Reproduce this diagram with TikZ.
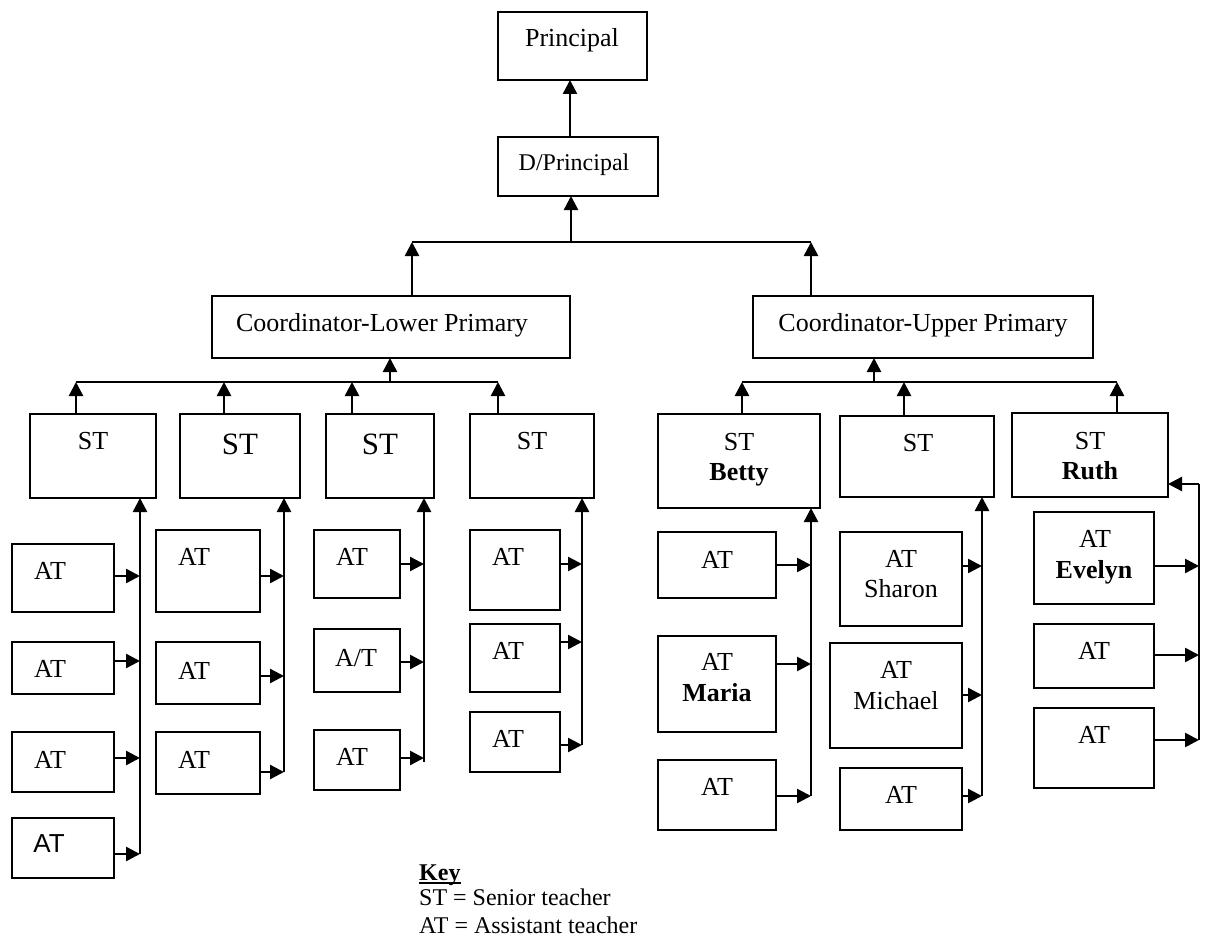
\documentclass[tikz,border=0pt]{standalone}
\usepackage{fontspec}
\setmainfont{Liberation Serif}
\newfontfamily\arialf{Liberation Sans}
\usetikzlibrary{arrows.meta,fit}
\newcommand\mybox[5]{\node[box, fit={(#2,#3) (#4,#5)}] (#1) {};}
\begin{document}
\begin{tikzpicture}[x=1pt,y=-1pt,
  box/.style={draw, line width=2pt, inner sep=0pt, outer sep=0pt},
  conn/.style={line width=2.5pt},
  arr/.style={line width=2.5pt, -{Triangle[length=14pt,width=14pt]}},
  lbl/.style={anchor=base, inner sep=0pt, font=\fontsize{26}{30}\selectfont},
  lblb/.style={anchor=base, inner sep=0pt, font=\fontsize{26}{30}\selectfont\bfseries},
  lblbig/.style={anchor=base, inner sep=0pt, font=\fontsize{31}{36}\selectfont},
  lblmid/.style={anchor=base, inner sep=0pt, font=\fontsize{24}{28}\selectfont},
  lblsans/.style={anchor=base, inner sep=0pt, font=\fontsize{26}{30}\selectfont\arialf},
  keytxt/.style={anchor=base west, inner sep=0pt, font=\fontsize{24}{27}\selectfont}
]
\useasboundingbox (0,0) rectangle (1210,939);

% ---------- boxes ----------
\mybox{prin}{498}{12}{647}{80}
\mybox{dp}{498}{137}{658}{196}
\mybox{cl}{212}{296}{570}{358}
\mybox{cu}{753}{296}{1093}{358}
\mybox{st1}{30}{414}{156}{498}
\mybox{st2}{180}{414}{300}{498}
\mybox{st3}{326}{414}{434}{498}
\mybox{st4}{470}{414}{594}{498}
\mybox{st5}{658}{414}{820}{508}
\mybox{st6}{840}{416}{994}{497}
\mybox{st7}{1012}{413}{1168}{497}
% col 1
\mybox{a11}{12}{544}{114}{612}
\mybox{a12}{12}{642}{114}{694}
\mybox{a13}{12}{732}{114}{792}
\mybox{a14}{12}{818}{114}{878}
% col 2
\mybox{a21}{156}{530}{260}{612}
\mybox{a22}{156}{642}{260}{704}
\mybox{a23}{156}{732}{260}{794}
% col 3
\mybox{a31}{314}{530}{400}{598}
\mybox{a32}{314}{629}{400}{692}
\mybox{a33}{314}{730}{400}{790}
% col 4
\mybox{a41}{470}{530}{560}{610}
\mybox{a42}{470}{624}{560}{692}
\mybox{a43}{470}{712}{560}{772}
% col 5
\mybox{a51}{658}{532}{776}{598}
\mybox{a52}{658}{636}{776}{732}
\mybox{a53}{658}{760}{776}{830}
% col 6
\mybox{a61}{840}{532}{962}{626}
\mybox{a62}{830}{643}{962}{748}
\mybox{a63}{840}{768}{962}{830}
% col 7
\mybox{a71}{1034}{512}{1154}{604}
\mybox{a72}{1034}{624}{1154}{688}
\mybox{a73}{1034}{708}{1154}{788}

% ---------- texts ----------
\node[lbl] (tprin) at (572,47) {Principal};
\node[lblmid] (tdp) at (574,170) {D/Principal};
\node[lbl] (tcl) at (382,331) {Coordinator-Lower Primary};
\node[lbl] (tcu) at (923,331) {Coordinator-Upper Primary};
\node[lbl] (tst1) at (93,449) {ST};
\node[lblbig] (tst2) at (240,454) {ST};
\node[lblbig] (tst3) at (380,454) {ST};
\node[lbl] (tst4) at (532,449) {ST};
\node[lbl] (tst5) at (739,450) {ST};
\node[lblb] (tst5b) at (739,480) {Betty};
\node[lbl] (tst6) at (918,451) {ST};
\node[lbl] (tst7) at (1090,449) {ST};
\node[lblb] (tst7b) at (1090,479) {Ruth};
\node[lbl] (ta11) at (50,579) {AT};
\node[lbl] (ta12) at (50,677) {AT};
\node[lbl] (ta13) at (50,768) {AT};
\node[lblsans] (ta14) at (49,852) {AT};
\node[lbl] (ta21) at (194,565) {AT};
\node[lbl] (ta22) at (194,679) {AT};
\node[lbl] (ta23) at (194,768) {AT};
\node[lbl] (ta31) at (352,565) {AT};
\node[lbl] (ta32) at (356,666) {A/T};
\node[lbl] (ta33) at (352,765) {AT};
\node[lbl] (ta41) at (508,565) {AT};
\node[lbl] (ta42) at (508,659) {AT};
\node[lbl] (ta43) at (508,747) {AT};
\node[lbl] (ta51) at (717,568) {AT};
\node[lbl] (ta52) at (717,670) {AT};
\node[lblb] (ta52b) at (717,701) {Maria};
\node[lbl] (ta53) at (717,795) {AT};
\node[lbl] (ta61) at (901,567) {AT};
\node[lbl] (ta61b) at (901,597) {Sharon};
\node[lbl] (ta62) at (896,678) {AT};
\node[lbl] (ta62b) at (896,709) {Michael};
\node[lbl] (ta63) at (901,803) {AT};
\node[lbl] (ta71) at (1095,547) {AT};
\node[lblb] (ta71b) at (1094,578) {Evelyn};
\node[lbl] (ta72) at (1094,659) {AT};
\node[lbl] (ta73) at (1094,743) {AT};
\node[keytxt] (key1) at (419,880) {\bfseries\sbox0{Key}\rlap{\rule[-3.5pt]{\wd0}{1.6pt}}\usebox0};
\node[keytxt] (key2) at (419,905) {ST = Senior teacher};
\node[keytxt] (key3) at (419,933) {AT = Assistant teacher};

% ---------- top connectors ----------
\draw[arr] ([xshift=-8pt]dp.north) -- ([xshift=-8pt]dp.north |- prin.south);
\coordinate (tb1) at (412,242);
\coordinate (tb2) at (811,242);
\coordinate (tbm) at (571,242);
\draw[conn] (tb1) -- (tb2);
\draw[arr] (cl.north -| tb1) -- (tb1);
\draw[arr] (cu.north -| tb2) -- (tb2);
\draw[arr] (tbm) -- (dp.south -| tbm);

% ---------- left bar ----------
\coordinate (lb1) at (76,382);
\coordinate (lb2) at (224,382);
\coordinate (lb3) at (352,382);
\coordinate (lb4) at (498,382);
\coordinate (lbm) at (390,382);
\draw[conn] (lb1) -- (lb4);
\draw[arr] (st1.north -| lb1) -- (lb1);
\draw[arr] (st2.north -| lb2) -- (lb2);
\draw[arr] (st3.north -| lb3) -- (lb3);
\draw[arr] (st4.north -| lb4) -- (lb4);
\draw[arr] (lbm) -- (cl.south -| lbm);

% ---------- right bar ----------
\coordinate (rb1) at (742,382);
\coordinate (rb2) at (904,382);
\coordinate (rb3) at (1117,382);
\coordinate (rbm) at (874,382);
\draw[conn] (rb1) -- (rb3);
\draw[arr] (st5.north -| rb1) -- (rb1);
\draw[arr] (st6.north -| rb2) -- (rb2);
\draw[arr] (st7.north -| rb3) -- (rb3);
\draw[arr] (rbm) -- (cu.south -| rbm);

% ---------- spines ----------
% col 1
\coordinate (s1b) at (140,854);
\draw[arr] (s1b) -- (st1.south -| s1b);
\coordinate (j11) at (140,576);
\coordinate (j12) at (140,661);
\coordinate (j13) at (140,758);
\draw[arr] (a11.east |- j11) -- (j11);
\draw[arr] (a12.east |- j12) -- (j12);
\draw[arr] (a13.east |- j13) -- (j13);
\draw[arr] (a14.east |- s1b) -- (s1b);
% col 2
\coordinate (s2b) at (284,772);
\draw[arr] (s2b) -- (st2.south -| s2b);
\coordinate (j21) at (284,576);
\coordinate (j22) at (284,676);
\draw[arr] (a21.east |- j21) -- (j21);
\draw[arr] (a22.east |- j22) -- (j22);
\draw[arr] (a23.east |- s2b) -- (s2b);
% col 3
\coordinate (s3b) at (424,762);
\draw[arr] (s3b) -- (st3.south -| s3b);
\coordinate (j31) at (424,564);
\coordinate (j32) at (424,662);
\coordinate (j33) at (424,758);
\draw[arr] (a31.east |- j31) -- (j31);
\draw[arr] (a32.east |- j32) -- (j32);
\draw[arr] (a33.east |- j33) -- (j33);
% col 4
\coordinate (s4b) at (582,745);
\draw[arr] (s4b) -- (st4.south -| s4b);
\coordinate (j41) at (582,564);
\coordinate (j42) at (582,642);
\draw[arr] (a41.east |- j41) -- (j41);
\draw[arr] (a42.east |- j42) -- (j42);
\draw[arr] (a43.east |- s4b) -- (s4b);
% col 5
\coordinate (s5b) at (811,796);
\draw[arr] (s5b) -- (st5.south -| s5b);
\coordinate (j51) at (811,565);
\coordinate (j52) at (811,664);
\draw[arr] (a51.east |- j51) -- (j51);
\draw[arr] (a52.east |- j52) -- (j52);
\draw[arr] (a53.east |- s5b) -- (s5b);
% col 6
\coordinate (s6b) at (982,796);
\draw[arr] (s6b) -- (st6.south -| s6b);
\coordinate (j61) at (982,566);
\coordinate (j62) at (982,695);
\draw[arr] (a61.east |- j61) -- (j61);
\draw[arr] (a62.east |- j62) -- (j62);
\draw[arr] (a63.east |- s6b) -- (s6b);
% col 7
\coordinate (s7t) at (1199,484);
\coordinate (s7b) at (1199,740);
\draw[conn] (s7b) -- (s7t);
\draw[arr] (s7t) -- (st7.east |- s7t);
\coordinate (j71) at (1199,566);
\coordinate (j72) at (1199,655);
\draw[arr] (a71.east |- j71) -- (j71);
\draw[arr] (a72.east |- j72) -- (j72);
\draw[arr] (a73.east |- s7b) -- (s7b);
\end{tikzpicture}
\end{document}
